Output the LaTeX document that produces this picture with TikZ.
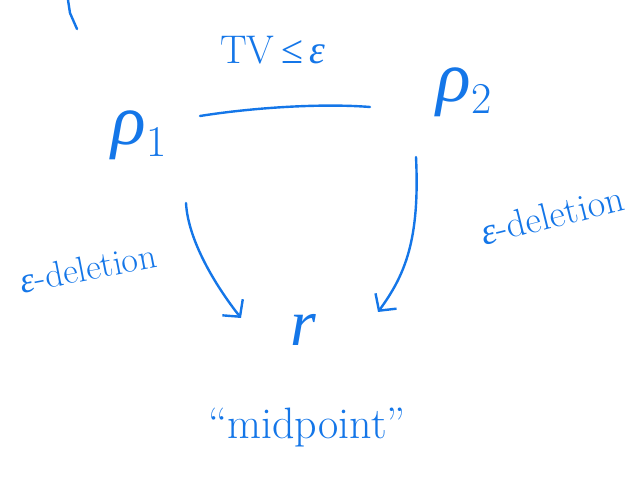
\documentclass[tikz,border=0pt]{standalone}
\usepackage{fontspec}
\newfontfamily\grk{Liberation Serif}
\usetikzlibrary{arrows.meta}
\definecolor{ink}{RGB}{20,118,232}
\newcommand{\bigsym}[2]{{\fontsize{72}{72}\selectfont\grk\itshape #1}{\fontsize{44}{44}\selectfont\raisebox{-12pt}{#2}}}
\begin{document}
\begin{tikzpicture}[x=1pt,y=-1pt,
  ink/.style={line width=2.4pt,draw=ink,line cap=round,line join=round},
  lbl/.style={text=ink,inner sep=0pt},
  arr/.style={ink,-{Straight Barb[length=12pt,width=26pt,line width=2.4pt]}}]
\useasboundingbox (0,0) rectangle (635,478);
\node[lbl] (rho1) at (139,135) {\bigsym{ρ}{1}};
\node[lbl] (rho2) at (464,92) {\bigsym{ρ}{2}};
\node[lbl,font=\fontsize{66}{66}\selectfont\grk\itshape] (r) at (303,330) {r};
\node[lbl,font=\fontsize{40}{40}\selectfont] (tv) at (273,50) {TV\,{\grk ≤}\,{\grk\itshape ε}};
\node[lbl,font=\fontsize{36}{36}\selectfont,rotate=11] (ldel) at (88,268) {{\grk\itshape ε}-deletion};
\node[lbl,font=\fontsize{38}{38}\selectfont,rotate=14] (rdel) at (552,215) {{\grk\itshape ε}-deletion};
\node[lbl,font=\fontsize{44}{44}\selectfont] (mid) at (307,428) {``midpoint''};
\coordinate (stroke) at (68,0);
\draw[ink] (stroke) -- ++(2,13) -- ++(7,16);
\draw[ink] ([shift={(61,-19)}]rho1.center) .. controls ([shift={(111,-27)}]rho1.center) and ([shift={(-144,11)}]rho2.center) .. ([shift={(-94,15)}]rho2.center);
\draw[arr] ([shift={(47,68)}]rho1.center) .. controls ([shift={(49,105)}]rho1.center) and ([shift={(-88,-45)}]r.center) .. ([shift={(-62,-12)}]r.center);
\draw[arr] ([shift={(-48,65)}]rho2.center) .. controls ([shift={(-44,148)}]rho2.center) and ([shift={(102,-55)}]r.center) .. ([shift={(75,-18)}]r.center);
\end{tikzpicture}
\end{document}
